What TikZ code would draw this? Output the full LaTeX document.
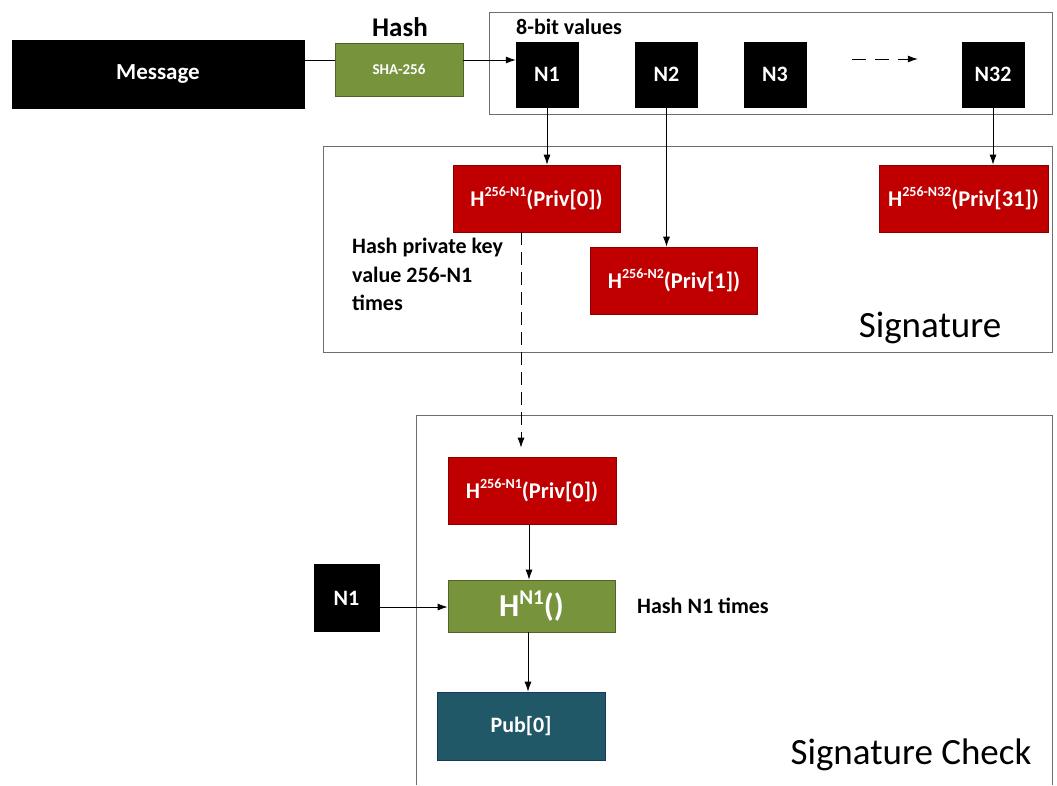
\documentclass[tikz,border=0pt]{standalone}
\usepackage{fontspec}
\setmainfont{Carlito}
\usetikzlibrary{arrows.meta}
\definecolor{hashred}{HTML}{C00000}
\definecolor{hashredline}{HTML}{8C0000}
\definecolor{hashgreen}{HTML}{77933C}
\definecolor{hashgreenline}{HTML}{4F6228}
\definecolor{pubteal}{HTML}{215868}
\definecolor{pubtealline}{HTML}{17375E}
\definecolor{framegray}{HTML}{6E6E6E}
\newcommand{\fsz}[1]{\fontsize{#1}{#1}\selectfont}
\newcommand{\hsup}[2]{H\raisebox{0.42em}{\fsz{#1}#2}}
\tikzset{
  x=1pt, y=-1pt,
  blk/.style={fill=black, draw=black, text=white, font=\bfseries\fsz{22},
    inner sep=0pt, minimum width=62pt, minimum height=65pt},
  redbox/.style={fill=hashred, draw=hashredline, line width=0.8pt, text=white,
    font=\bfseries\fsz{22.5}, inner sep=0pt, minimum width=167pt, minimum height=67pt},
  greenbox/.style={fill=hashgreen, draw=hashgreenline, line width=0.8pt, text=white,
    inner sep=0pt},
  tealbox/.style={fill=pubteal, draw=pubtealline, line width=0.8pt, text=white,
    font=\bfseries\fsz{22}, inner sep=0pt, minimum width=168pt, minimum height=68pt},
  framebox/.style={draw=framegray, line width=1pt},
  arr/.style={draw=black, line width=0.8pt, -{Latex[length=10pt,width=7pt]}},
  plain/.style={draw=black, line width=0.8pt},
  note/.style={text=black, font=\bfseries\fsz{22}, inner sep=0pt},
  title/.style={text=black, font=\fsz{37}, inner sep=0pt},
}
\begin{document}
\begin{tikzpicture}
\useasboundingbox (0,0) rectangle (1057,785);

% frames
\draw[framebox] (489,12) rectangle (1052,114);
\draw[framebox] (323,146) rectangle (1052,352);
\draw[framebox] (416,785) -- (416,415) -- (1052,415) -- (1052,785);

% top row
\node[blk, font=\bfseries\fsz{23}, minimum width=292pt, minimum height=68pt] (msg) at (158,74) {Message};
\node[greenbox, font=\bfseries\fsz{15}, minimum width=128pt, minimum height=53pt] (sha) at (399,69.5) {SHA-256};
\node[note, font=\bfseries\fsz{27}, anchor=base] (hashlbl) at (400,36) {Hash};
\node[note, anchor=base west] (bitslbl) at (516,34) {8-bit values};

\node[blk] (n1) at (547,74.5) {N1};
\node[blk] (n2) at (666.5,74.5) {N2};
\node[blk] (n3) at (775,74.5) {N3};
\node[blk] (n32) at (993,74.5) {N32};

\coordinate (row) at (0,60);
\draw[plain] (msg.east |- row) -- (sha.west |- row);
\draw[arr] (sha.east |- row) -- (n1.west |- row);
\draw[arr, dashed, dash pattern=on 14pt off 9pt, shorten <=46pt, shorten >=44pt]
  (n3.east |- 0,59) -- (n32.west |- 0,59);

% signature
\node[redbox] (h1) at (536.5,198.5) {\hsup{14}{256-N1}(Priv[0])};
\node[redbox] (h2) at (674,280.5) {\hsup{14}{256-N2}(Priv[1])};
\node[redbox, minimum width=169pt] (h32) at (963.5,198.5) {\hsup{14}{256-N32}(Priv[31])};

\draw[arr] (n1.south) -- (n1.south |- h1.north);
\draw[arr] (n2.south) -- (n2.south |- h2.north);
\draw[arr] (n32.south) -- (n32.south |- h32.north);

\node[note, align=left, anchor=north west, font=\bfseries\fontsize{22}{28.5}\selectfont] (privnote) at (352,238)
  {Hash private key\\value 256-N1\\times};
\node[title, anchor=base] (sigtitle) at (930,337) {Signature};

% signature check
\node[redbox, minimum width=168pt] (hc) at (532,490.5) {\hsup{14}{256-N1}(Priv[0])};
\node[greenbox, minimum width=167pt, minimum height=52pt, font=\bfseries\fsz{32}] (hn) at (531.5,606)
  {H\raisebox{0.4em}{\fsz{21}N1}()};
\node[blk, minimum width=65pt, minimum height=67pt] (n1b) at (346.5,598) {N1};
\node[tealbox] (pub) at (521,726) {Pub[0]};
\node[note, anchor=west] (hnnote) at (637,606) {Hash N1 times};
\node[title, anchor=base] (chktitle) at (911,764) {Signature Check};

\draw[arr, dashed, dash pattern=on 13pt off 7pt, shorten >=9pt]
  ([xshift=-15.5pt]h1.south) -- ([xshift=-11pt]hc.north);
\draw[arr] ([xshift=-3pt]hc.south) -- ([xshift=-3pt]hc.south |- hn.north);
\draw[arr] ([xshift=-3.5pt]hn.south) -- ([xshift=-3.5pt]hn.south |- pub.north);
\draw[arr] (n1b.east |- 0,607) -- (hn.west |- 0,607);
\end{tikzpicture}
\end{document}
